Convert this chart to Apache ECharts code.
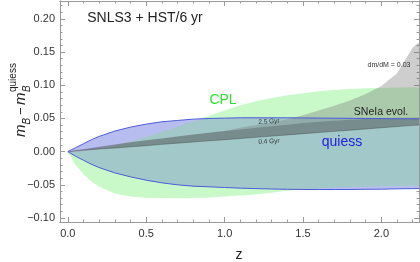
<!DOCTYPE html>
<html><head><meta charset="utf-8">
<script src="https://cdn.jsdelivr.net/npm/echarts@6/dist/echarts.min.js"></script>
<style>html,body{margin:0;padding:0;background:#fff}#c{width:420px;height:262px}</style>
</head><body><div id="c"></div>
<script>
// ---- data ----
const Z          = [0, 0.05, 0.1, 0.15, 0.2, 0.3, 0.4, 0.5, 0.6, 0.7, 0.8, 0.9, 1.0, 1.1, 1.2, 1.3, 1.4, 1.5, 1.6, 1.7, 1.8, 1.9, 2.0, 2.1, 2.2, 2.24];
const QUIESS_HI  = [0, 0.006, 0.012, 0.018, 0.023, 0.031, 0.037, 0.0415, 0.045, 0.047, 0.049, 0.050, 0.0505, 0.051, 0.051, 0.051, 0.051, 0.0508, 0.0506, 0.0504, 0.0502, 0.050, 0.0498, 0.0496, 0.0495, 0.0495];
const QUIESS_LO  = [0, -0.007, -0.013, -0.019, -0.024, -0.032, -0.038, -0.043, -0.047, -0.050, -0.052, -0.053, -0.054, -0.055, -0.0557, -0.0563, -0.0567, -0.057, -0.057, -0.057, -0.057, -0.0567, -0.0565, -0.056, -0.0557, -0.0556];
const CPL_HI     = [0, 0.0005, 0.0015, 0.003, 0.005, 0.009, 0.015, 0.022, 0.030, 0.038, 0.046, 0.054, 0.062, 0.070, 0.076, 0.081, 0.085, 0.088, 0.091, 0.093, 0.0945, 0.0955, 0.096, 0.0965, 0.097, 0.097];
const CPL_LO     = [0, -0.020, -0.034, -0.045, -0.053, -0.063, -0.0675, -0.0695, -0.070, -0.0702, -0.070, -0.069, -0.0675, -0.066, -0.0645, -0.062, -0.059, -0.0567, -0.0555, -0.0545, -0.0537, -0.053, -0.0523, -0.0517, -0.0512, -0.051];
const EVOL_04GYR = [0, 0.001, 0.002, 0.003, 0.004, 0.0055, 0.0072, 0.009, 0.011, 0.0128, 0.0146, 0.0164, 0.018, 0.0198, 0.0216, 0.0234, 0.0252, 0.027, 0.0288, 0.0306, 0.0324, 0.0342, 0.036, 0.0378, 0.0396, 0.040];
const EVOL_25GYR = [0, 0.002, 0.0037, 0.0055, 0.0072, 0.0106, 0.014, 0.017, 0.020, 0.023, 0.0258, 0.0285, 0.031, 0.0335, 0.036, 0.0384, 0.0406, 0.043, 0.045, 0.0467, 0.048, 0.0493, 0.0503, 0.051, 0.0515, 0.0517];
const EVOL_DMDM  = [0, 0.002, 0.0037, 0.0055, 0.0072, 0.0106, 0.014, 0.017, 0.020, 0.023, 0.0258, 0.0285, 0.031, 0.036, 0.040, 0.044, 0.049, 0.055, 0.062, 0.069, 0.077, 0.087, 0.099, 0.118, 0.157, 0.165];

const X_TICKS = [0, 0.5, 1.0, 1.5, 2.0];
const X_MINOR = [0.1, 0.2, 0.3, 0.4, 0.6, 0.7, 0.8, 0.9, 1.1, 1.2, 1.3, 1.4, 1.6, 1.7, 1.8, 1.9, 2.1, 2.2];
const Y_TICKS = [-0.10, -0.05, 0.00, 0.05, 0.10, 0.15, 0.20];
const Y_MINOR = [-0.09, -0.08, -0.07, -0.06, -0.04, -0.03, -0.02, -0.01, 0.01, 0.02, 0.03, 0.04, 0.06, 0.07, 0.08, 0.09, 0.11, 0.12, 0.13, 0.14, 0.16, 0.17, 0.18, 0.19, 0.21, 0.22];

// ---- styling / layout ----
const X_MIN = -0.05, X_MAX = 2.24, Y_MIN = -0.106, Y_MAX = 0.227;
const FRAME = '#9a9a9a';
const LABEL = '#333';
const FONT = 'Liberation Sans, Arial, sans-serif';
const GREEN_FILL = '#c9f9c9', LAV_FILL = '#b8bdf0', TEAL_FILL = '#a2c8c9', BLUE_LINE = '#4c5cd8';

const OVER_HI = QUIESS_HI.map((v, i) => Math.min(v, CPL_HI[i]));
const OVER_LO = QUIESS_LO.map((v, i) => Math.max(v, CPL_LO[i]));

function fmt(v, d) { const s = Math.abs(v).toFixed(d); return v < -1e-9 ? '\u2212' + s : s; }

function band(lo, hi, fill, zz) {
  return {
    type: 'custom', xAxisIndex: 0, yAxisIndex: 0, silent: true, z: zz, clip: true,
    data: [[Z[0], lo[0]]],
    renderItem: function (params, api) {
      const pts = [];
      for (let i = 0; i < Z.length; i++) pts.push(api.coord([Z[i], hi[i]]));
      for (let i = Z.length - 1; i >= 0; i--) pts.push(api.coord([Z[i], lo[i]]));
      return { type: 'polygon', shape: { points: pts }, style: { fill: fill } };
    }
  };
}
function line(vals, color, width, zz) {
  return { type: 'line', xAxisIndex: 0, yAxisIndex: 0, silent: true, z: zz, showSymbol: false, symbol: 'none',
    data: Z.map((z, i) => [z, vals[i]]), lineStyle: { color: color, width: width }, clip: true };
}
function xAx(pos, vals, len, showLabels) {
  return { type: 'value', position: pos, min: X_MIN, max: X_MAX,
    axisLine: { show: true, onZero: false, lineStyle: { color: FRAME, width: 1 } },
    axisTick: { show: true, inside: true, length: len, customValues: vals, lineStyle: { color: FRAME } },
    axisLabel: { show: showLabels, customValues: vals, margin: 6, color: LABEL, fontSize: 11, fontFamily: FONT, formatter: v => fmt(v, 1) },
    splitLine: { show: false } };
}
function yAx(pos, vals, len, showLabels) {
  return { type: 'value', position: pos, min: Y_MIN, max: Y_MAX,
    axisLine: { show: true, onZero: false, lineStyle: { color: FRAME, width: 1 } },
    axisTick: { show: true, inside: true, length: len, customValues: vals, lineStyle: { color: FRAME } },
    axisLabel: { show: showLabels, customValues: vals, margin: 5, color: LABEL, fontSize: 11, fontFamily: FONT, formatter: v => fmt(v, 2) },
    splitLine: { show: false } };
}
function txt(text, x, y, size, color, opts) {
  return Object.assign({ type: 'text', x: x, y: y, z: 100, silent: true,
    style: { text: text, font: size + 'px ' + FONT, fill: color, textAlign: 'center', textVerticalAlign: 'middle' } }, opts || {});
}

const chart = echarts.init(document.getElementById('c'), null, { renderer: 'canvas', width: 420, height: 262 });
chart.setOption({
  animation: false,
  backgroundColor: '#fff',
  grid: { left: 60, right: 1, top: 1, bottom: 40, containLabel: false, outerBoundsMode: 'none' },
  xAxis: [xAx('bottom', X_TICKS, 5, true), xAx('bottom', X_MINOR, 2.5, false), xAx('top', X_TICKS, 5, false), xAx('top', X_MINOR, 2.5, false)],
  yAxis: [yAx('left', Y_TICKS, 5, true), yAx('left', Y_MINOR, 2.5, false), yAx('right', Y_TICKS, 5, false), yAx('right', Y_MINOR, 2.5, false)],
  series: [
    band(CPL_LO, CPL_HI, GREEN_FILL, 1),
    band(QUIESS_LO, QUIESS_HI, LAV_FILL, 2),
    band(OVER_LO, OVER_HI, TEAL_FILL, 3),
    band(EVOL_25GYR, EVOL_DMDM, 'rgba(120,120,120,0.36)', 4),
    band(EVOL_04GYR, EVOL_25GYR, 'rgba(60,60,60,0.42)', 5),
    line(EVOL_04GYR, 'rgba(50,50,50,0.5)', 0.7, 6),
    line(QUIESS_HI, BLUE_LINE, 1, 7),
    line(QUIESS_LO, BLUE_LINE, 1, 7)
  ],
  graphic: [
    txt('SNLS3 + HST/6 yr', 145, 18, 14, '#222'),
    txt('CPL', 223, 100, 14, '#2ee22e'),
    txt('quiess', 342, 142, 14, '#2020e0'),
    txt('SNeIa evol.', 381, 112, 10.5, '#222'),
    txt('dm/dM = 0.03', 389, 65.5, 7, '#333'),
    txt('2.5 Gyr', 269, 121.5, 6.5, '#333', { rotation: 0.07 }),
    txt('0.4 Gyr', 269, 141.5, 6.5, '#333', { rotation: 0.05 }),
    txt('z', 239, 255, 14, '#222'),
    { type: 'group', x: 21, y: 137, rotation: Math.PI / 2, z: 100, silent: true,
      children: [
        { type: 'text', x: 0, y: 0, style: { text: 'm', font: 'italic 15px ' + FONT, fill: '#222', textAlign: 'left', textVerticalAlign: 'middle' } },
        { type: 'text', x: 12.5, y: 6, style: { text: 'B', font: 'italic 10px ' + FONT, fill: '#222', textAlign: 'left', textVerticalAlign: 'middle' } },
        { type: 'text', x: 22, y: 0, style: { text: '\u2212', font: '13px ' + FONT, fill: '#222', textAlign: 'left', textVerticalAlign: 'middle' } },
        { type: 'text', x: 32, y: 0, style: { text: 'm', font: 'italic 15px ' + FONT, fill: '#222', textAlign: 'left', textVerticalAlign: 'middle' } },
        { type: 'text', x: 45, y: 6, style: { text: 'B', font: 'italic 10px ' + FONT, fill: '#222', textAlign: 'left', textVerticalAlign: 'middle' } },
        { type: 'text', x: 45, y: -8, style: { text: 'quiess', font: '10px ' + FONT, fill: '#222', textAlign: 'left', textVerticalAlign: 'middle' } }
      ] }
  ]
});
</script></body></html>
